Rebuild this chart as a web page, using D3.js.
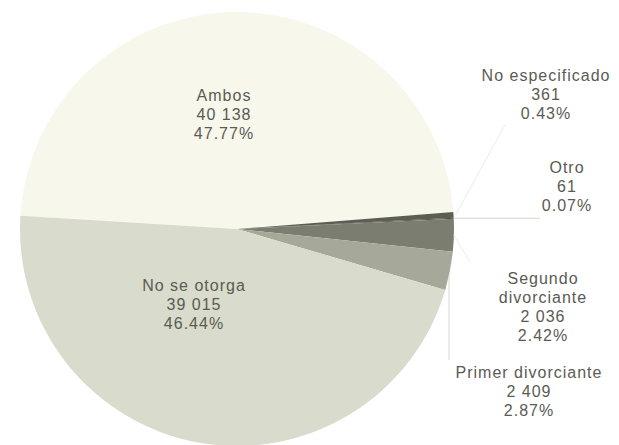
<!DOCTYPE html>
<html>
<head>
<meta charset="utf-8">
<script src="https://cdn.jsdelivr.net/npm/d3@7"></script>
<style>
  html, body { margin: 0; padding: 0; background: #ffffff; }
  svg { display: block; }
  text { font-family: "Liberation Sans", Arial, sans-serif; }
</style>
</head>
<body>
<svg id="chart" width="619" height="445"></svg>
<script>
// ---- data ----
const categories = ["Ambos", "No especificado", "Otro", "Segundo divorciante", "Primer divorciante", "No se otorga"];
const values = [40138, 361, 61, 2036, 2409, 39015];
const valueLabels = ["40 138", "361", "61", "2 036", "2 409", "39 015"];
const percentLabels = ["47.77%", "0.43%", "0.07%", "2.42%", "2.87%", "46.44%"];
const nameLines = [["Ambos"], ["No especificado"], ["Otro"], ["Segundo", "divorciante"], ["Primer divorciante"], ["No se otorga"]];

// ---- styling / layout ----
const colors = ["#f7f7ec", "#5c5e54", "#45473f", "#7b7d70", "#a6a899", "#d9dbcc"];
const cx = 237, cy = 229, R = 217;
const startDeg = -86.5;
const labelPos = [
  [224, 95], [546, 75], [567, 167], [543, 278], [529, 372], [194, 285]
];
const lineH = 19;

const svg = d3.select("#chart");
const g = svg.append("g").attr("transform", `translate(${cx},${cy})`);

const data = categories.map((c, i) => ({ name: c, value: values[i], i }));
const rad = d => d * Math.PI / 180;
const pie = d3.pie().sort(null).value(d => d.value)
  .startAngle(rad(startDeg)).endAngle(rad(startDeg + 360));
const arcs = pie(data);
const arc = d3.arc().innerRadius(0).outerRadius(R);

g.selectAll("path.slice").data(arcs).join("path")
  .attr("class", "slice")
  .attr("d", arc)
  .attr("fill", d => colors[d.data.i])
  .attr("stroke", "none");

// leader lines (faint)
const edge = (a, r) => [Math.sin(a) * r, -Math.cos(a) * r];
const leaderColor = "#d4d4cc";
// No especificado
{
  const a = arcs[1]; const p = edge((a.startAngle + a.endAngle) / 2, R);
  g.append("line").attr("x1", p[0] + 2).attr("y1", p[1]).attr("x2", 505 - cx).attr("y2", 125 - cy)
    .attr("stroke", "#ececE6").attr("stroke-width", 1);
}
// Otro
{
  const a = arcs[2]; const p = edge((a.startAngle + a.endAngle) / 2, R);
  g.append("line").attr("x1", p[0]).attr("y1", p[1]).attr("x2", 540 - cx).attr("y2", p[1])
    .attr("stroke", leaderColor).attr("stroke-width", 1);
}
// Segundo divorciante
{
  const a = arcs[3]; const p = edge((a.startAngle + a.endAngle) / 2, R);
  g.append("line").attr("x1", p[0]).attr("y1", p[1]).attr("x2", 470 - cx).attr("y2", 262 - cy)
    .attr("stroke", "#ececE6").attr("stroke-width", 1);
}
// Primer divorciante
{
  const x = 449 - cx;
  const y0 = Math.sqrt(R * R - x * x);
  g.append("line").attr("x1", x).attr("y1", y0).attr("x2", x).attr("y2", 360 - cy)
    .attr("stroke", leaderColor).attr("stroke-width", 1);
}

// labels
data.forEach((d, i) => {
  const lines = nameLines[i].concat([valueLabels[i], percentLabels[i]]);
  const [lx, ly] = labelPos[i];
  const t = svg.append("text")
    .attr("text-anchor", "middle")
    .attr("font-size", 16)
    .attr("letter-spacing", 1)
    .attr("fill", "#5a5b53");
  lines.forEach((s, k) => {
    t.append("tspan").attr("x", lx).attr("y", ly + k * lineH)
      .attr("dominant-baseline", "central").text(s);
  });
});
</script>
</body>
</html>
